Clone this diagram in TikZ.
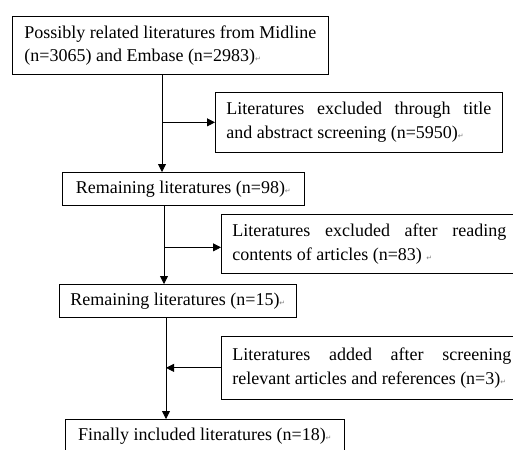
\documentclass[tikz,border=0pt]{standalone}
\usepackage{fontspec}
\setmainfont{Liberation Serif}
\newfontfamily\symfont{DejaVu Sans}
\usetikzlibrary{arrows.meta}
\newcommand\retmark{{\symfont\fontsize{7}{7}\selectfont\textcolor{gray}{↵}}}

\begin{document}
\begin{tikzpicture}[x=1pt,y=-1pt,
  box/.style={draw, line width=0.7pt, anchor=north west, inner xsep=11pt, inner ysep=0pt,
    font=\fontsize{18}{23.5}\selectfont},
  lbox/.style={box, align=left, inner xsep=0pt},
  jbox/.style={box, align=justify},
  arr/.style={-{Triangle[length=8pt,width=8pt]}, line width=0.8pt}]
\clip (0,0) rectangle (513,449);
\node[lbox, minimum width=316pt, minimum height=58pt] (b1) at (12,16)
  {Possibly related literatures from Midline\\(n=3065) and Embase (n=2983)\retmark};
\node[jbox, text width=265pt, minimum height=60pt] (b3) at (215,92)
  {Literatures excluded through title\linebreak and abstract screening (n=5950)\retmark};
\node[lbox, minimum width=242pt, minimum height=33pt] (b2) at (62,172)
  {Remaining literatures (n=98)\retmark};
\node[jbox, text width=274pt, minimum height=59pt] (b5) at (221,214)
  {Literatures excluded after reading\linebreak contents of articles (n=83) \retmark};
\node[lbox, minimum width=237pt, minimum height=33pt] (b4) at (59,284)
  {Remaining literatures (n=15)\retmark};
\node[jbox, text width=279pt, minimum height=63pt] (b7) at (221,336)
  {Literatures added after screening\linebreak relevant articles and references (n=3)\retmark};
\node[lbox, minimum width=279pt, minimum height=33pt] (b6) at (65,419)
  {Finally included literatures (n=18)\retmark};
\coordinate (sp1) at (162,0);
\coordinate (sp2) at (164,0);
\coordinate (sp3) at (166,0);
\coordinate (br2) at ([yshift=-3.5pt]b5.west);
\draw[arr] (b1.south -| sp1) -- (b2.north -| sp1);
\draw[arr] (sp1 |- b3.west) -- (b3.west);
\draw[arr] (b2.south -| sp2) -- (b4.north -| sp2);
\draw[arr] (sp2 |- br2) -- (br2);
\draw[arr] (b4.south -| sp3) -- (b6.north -| sp3);
\draw[arr] (b7.west) -- (sp3 |- b7.west);
\end{tikzpicture}
\end{document}
